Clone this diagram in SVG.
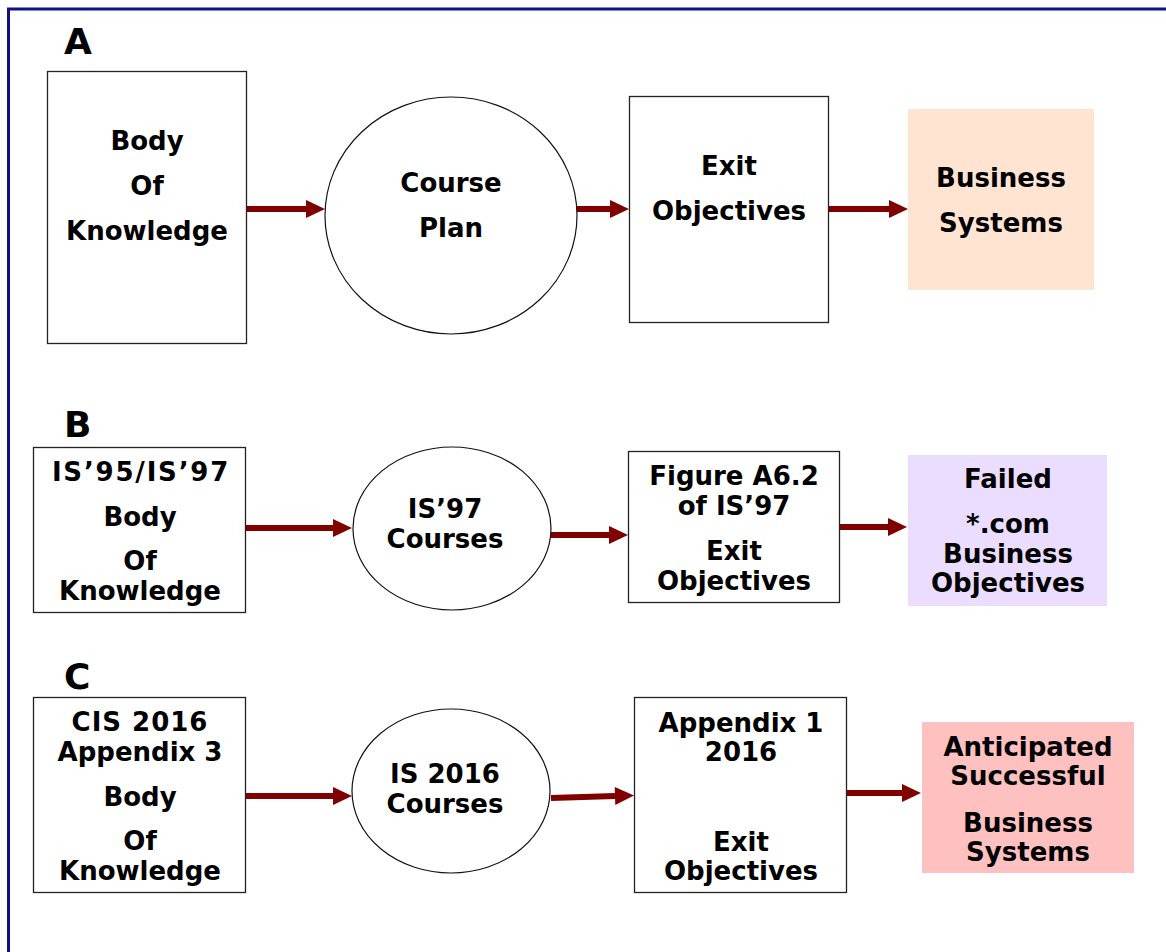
<svg xmlns="http://www.w3.org/2000/svg" width="1166" height="952" viewBox="0 0 1166 952">
<style>
.bg{fill:#ffffff}
.frame{fill:none;stroke:#10108a;stroke-width:3}
.box{fill:#ffffff;stroke:#222222;stroke-width:1.3}
.ell{fill:#ffffff;stroke:#111111;stroke-width:1.2}
.t{font-family:"DejaVu Sans","Liberation Sans",sans-serif;font-weight:bold;font-size:26px;fill:#000000;text-anchor:middle}
.lbl{font-family:"DejaVu Sans","Liberation Sans",sans-serif;font-weight:bold;font-size:36px;fill:#000000}
.conn{fill:none;stroke:#800000;stroke-width:6;marker-end:url(#ah)}
</style>
<defs>
<marker id="ah" markerUnits="userSpaceOnUse" markerWidth="19" markerHeight="18" refX="0" refY="9" orient="auto" overflow="visible">
<path d="M0,0 L19,9 L0,18 Z" fill="#800000"/>
</marker>
</defs>
<rect class="bg" x="0" y="0" width="1166" height="952"/>
<rect class="frame" x="8.5" y="9" width="1200" height="1000"/>

<text class="lbl" x="64" y="54">A</text>
<text class="lbl" x="64" y="437">B</text>
<text class="lbl" x="64" y="689">C</text>

<g id="connectors">
<path class="conn" d="M246,209 L306,209"/>
<path class="conn" d="M577,209 L610,209"/>
<path class="conn" d="M829,209 L889,209"/>
<path class="conn" d="M246,528 L333,528"/>
<path class="conn" d="M551,535 L609,535"/>
<path class="conn" d="M838,527 L888,527"/>
<path class="conn" d="M246,796 L333,796"/>
<path class="conn" d="M551,798 L615,796"/>
<path class="conn" d="M842,793 L902,793"/>
</g>

<g id="a1">
<rect class="box" x="47.5" y="71.5" width="199" height="272"/>
<text class="t" x="147" y="150">Body</text>
<text class="t" x="147" y="195">Of</text>
<text class="t" x="147" y="240">Knowledge</text>
</g>
<g id="a2">
<ellipse class="ell" cx="451" cy="215.5" rx="126" ry="118.5"/>
<text class="t" x="451" y="192">Course</text>
<text class="t" x="451" y="237">Plan</text>
</g>
<g id="a3">
<rect class="box" x="629.5" y="96.5" width="199" height="226"/>
<text class="t" x="729" y="175">Exit</text>
<text class="t" x="729" y="220">Objectives</text>
</g>
<g id="a4">
<rect x="908" y="109" width="186" height="181" fill="#ffe4d2"/>
<text class="t" x="1001" y="187">Business</text>
<text class="t" x="1001" y="232">Systems</text>
</g>

<g id="b1">
<rect class="box" x="33.5" y="447.5" width="212" height="165"/>
<text class="t" x="141" y="481" letter-spacing="1.8">IS’95/IS’97</text>
<text class="t" x="140" y="526">Body</text>
<text class="t" x="140" y="570">Of</text>
<text class="t" x="140" y="600">Knowledge</text>
</g>
<g id="b2">
<ellipse class="ell" cx="452" cy="528.5" rx="99" ry="81.5"/>
<text class="t" x="445" y="518">IS’97</text>
<text class="t" x="445" y="548">Courses</text>
</g>
<g id="b3">
<rect class="box" x="628.5" y="451.5" width="211" height="151"/>
<text class="t" x="734" y="485">Figure A6.2</text>
<text class="t" x="734" y="515">of IS’97</text>
<text class="t" x="734" y="560">Exit</text>
<text class="t" x="734" y="590">Objectives</text>
</g>
<g id="b4">
<rect x="908" y="455" width="199" height="151" fill="#ebddff"/>
<text class="t" x="1008" y="488">Failed</text>
<text class="t" x="1008" y="533">*.com</text>
<text class="t" x="1008" y="563">Business</text>
<text class="t" x="1008" y="592">Objectives</text>
</g>

<g id="c1">
<rect class="box" x="33.5" y="697.5" width="212" height="195"/>
<text class="t" x="140" y="731" letter-spacing="1">CIS 2016</text>
<text class="t" x="140" y="761">Appendix 3</text>
<text class="t" x="140" y="806">Body</text>
<text class="t" x="140" y="850">Of</text>
<text class="t" x="140" y="880">Knowledge</text>
</g>
<g id="c2">
<ellipse class="ell" cx="451" cy="791" rx="99" ry="82"/>
<text class="t" x="445" y="783">IS 2016</text>
<text class="t" x="445" y="813">Courses</text>
</g>
<g id="c3">
<rect class="box" x="634.5" y="697.5" width="212" height="195"/>
<text class="t" x="741" y="732">Appendix 1</text>
<text class="t" x="741" y="761">2016</text>
<text class="t" x="741" y="851">Exit</text>
<text class="t" x="741" y="880">Objectives</text>
</g>
<g id="c4">
<rect x="922" y="722" width="212" height="151" fill="#ffc0c0"/>
<text class="t" x="1028" y="756">Anticipated</text>
<text class="t" x="1028" y="785">Successful</text>
<text class="t" x="1028" y="832">Business</text>
<text class="t" x="1028" y="861">Systems</text>
</g>
</svg>
